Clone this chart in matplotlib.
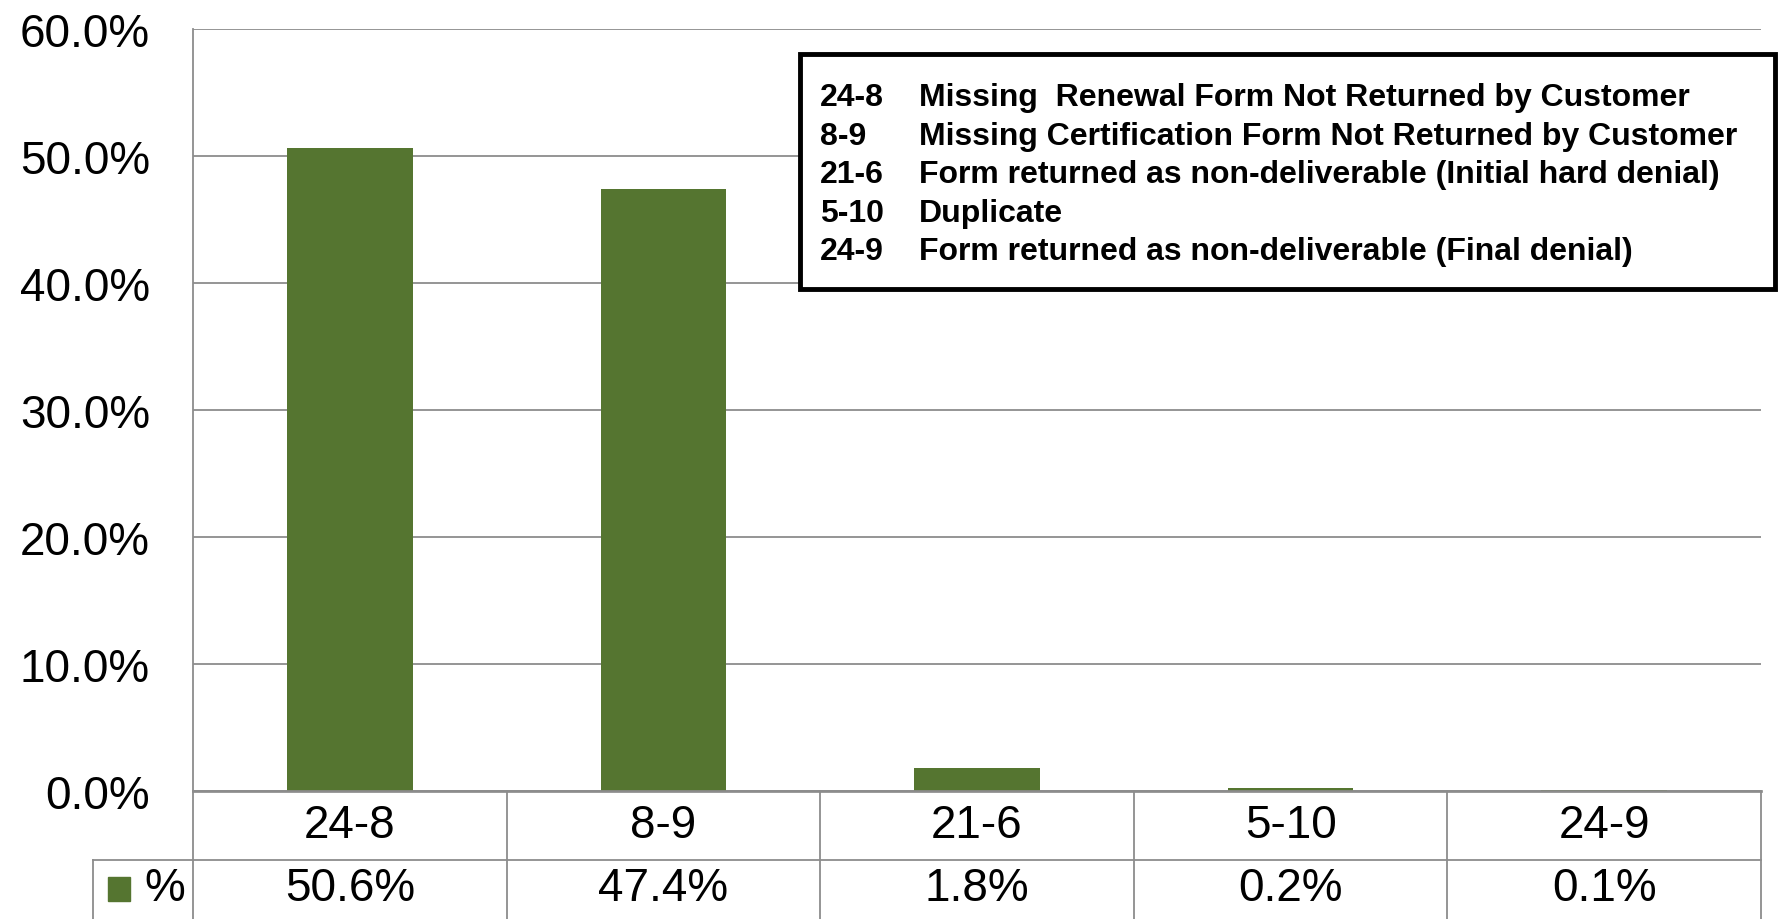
import matplotlib
matplotlib.use('Agg')
import matplotlib.pyplot as plt
import matplotlib.transforms as mtransforms
from matplotlib.patches import Rectangle

codes = ['24-8', '8-9', '21-6', '5-10', '24-9']
pct = [50.6, 47.4, 1.8, 0.2, 0.1]
descriptions = [
    'Missing  Renewal Form Not Returned by Customer',
    'Missing Certification Form Not Returned by Customer',
    'Form returned as non-deliverable (Initial hard denial)',
    'Duplicate',
    'Form returned as non-deliverable (Final denial)',
]
yticks = [0, 10, 20, 30, 40, 50, 60]

bar_color = '#557530'
line_color = '#8c8c8c'
plt.rcParams['font.family'] = ['Liberation Sans', 'DejaVu Sans']

W, H = 1779, 920
fig = plt.figure(figsize=(W / 100, H / 100), dpi=100)
x0, x1, ytop, ybot = 193, 1761, 30, 792
ax = fig.add_axes([x0 / W, (H - ybot) / H, (x1 - x0) / W, (ybot - ytop) / H])

xs = list(range(len(codes)))
ax.bar(xs, pct, width=0.4, color=bar_color, zorder=3)
ax.set_xlim(-0.5, len(codes) - 0.5)
ax.set_ylim(0, 60)
ax.set_yticks(yticks)
ax.set_yticklabels(['%.1f%%' % v for v in yticks], fontsize=33)
ax.tick_params(axis='y', length=0, pad=31)
ax.set_xticks([])
ax.grid(axis='y', color=line_color, lw=1.3, zorder=0)
for s in ['top', 'right', 'bottom']:
    ax.spines[s].set_visible(False)
ax.spines['left'].set_color(line_color)
ax.spines['left'].set_linewidth(1.3)

# data table under the axis
trans = mtransforms.blended_transform_factory(ax.transData, ax.transAxes)
ph = ybot - ytop
r1 = -(861 - ybot) / ph
r2 = -(935 - ybot) / ph
lw = 1.3
xl = -0.5 - 100 / (x1 - x0) * 5
ax.plot([-0.5, len(codes) - 0.5], [0, 0], transform=trans, color=line_color, lw=lw * 1.5,
        clip_on=False, zorder=4)
ax.plot([xl, len(codes) - 0.5], [r1, r1], transform=trans, color=line_color, lw=lw, clip_on=False)
for i in range(len(codes) + 1):
    ax.plot([i - 0.5, i - 0.5], [0, r2], transform=trans, color=line_color, lw=lw, clip_on=False)
ax.plot([xl, xl], [r1, r2], transform=trans, color=line_color, lw=lw, clip_on=False)
for i, (c, v) in enumerate(zip(codes, pct)):
    ax.text(i, -(826 - ybot) / ph, c, transform=trans, ha='center', va='center', fontsize=33)
    ax.text(i, -(889 - ybot) / ph, '%.1f%%' % v, transform=trans, ha='center', va='center', fontsize=33)
fig.patches.append(Rectangle((108 / W, (H - 902) / H), 22 / W, 24 / H, transform=fig.transFigure,
                             color=bar_color))
fig.text(144 / W, (H - 889) / H, '%', ha='left', va='center', fontsize=33)

# legend box with code descriptions
fig.patches.append(Rectangle((800 / W, (H - 290) / H), 975 / W, 235 / H, transform=fig.transFigure,
                             facecolor='white', edgecolor='black', lw=3.5, zorder=5))
for k, (c, d) in enumerate(zip(codes, descriptions)):
    yy = 98 + k * 38.6
    fig.text(820 / W, (H - yy) / H, c, ha='left', va='center', fontsize=23, fontweight='bold', zorder=6)
    fig.text(919 / W, (H - yy) / H, d, ha='left', va='center', fontsize=23, fontweight='bold', zorder=6)

fig.savefig('out.png', dpi=100)
